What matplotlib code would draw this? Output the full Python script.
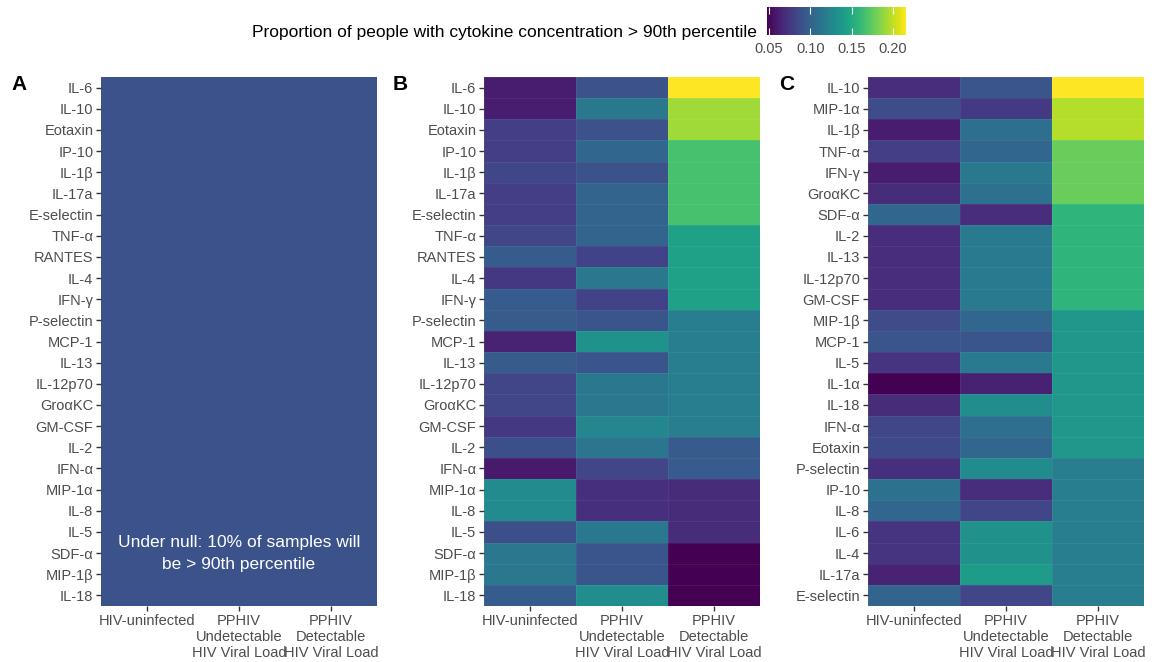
import numpy as np
import matplotlib.pyplot as plt
from matplotlib.colors import Normalize

plt.rcParams['font.family'] = ['Liberation Sans', 'DejaVu Sans']

groups = ["HIV-uninfected", "PPHIV\nUndetectable\nHIV Viral Load", "PPHIV\nDetectable\nHIV Viral Load"]

# panel A - under null
cyto_a = ["IL-6", "IL-10", "Eotaxin", "IP-10", "IL-1β", "IL-17a", "E-selectin", "TNF-α",
          "RANTES", "IL-4", "IFN-γ", "P-selectin", "MCP-1", "IL-13", "IL-12p70", "GroαKC",
          "GM-CSF", "IL-2", "IFN-α", "MIP-1α", "IL-8", "IL-5", "SDF-α", "MIP-1β", "IL-18"]
null_value = 0.090

# panel B
cyto_b = cyto_a
b_uninf = [0.061, 0.061, 0.078, 0.078, 0.083, 0.078, 0.078, 0.083, 0.096, 0.075, 0.096, 0.096, 0.064,
           0.095, 0.083, 0.083, 0.075, 0.088, 0.059, 0.128, 0.128, 0.088, 0.115, 0.115, 0.096]
b_undet = [0.090, 0.115, 0.090, 0.103, 0.090, 0.101, 0.101, 0.101, 0.081, 0.115, 0.081, 0.091, 0.133,
           0.091, 0.115, 0.115, 0.125, 0.113, 0.083, 0.071, 0.071, 0.115, 0.091, 0.091, 0.130]
b_det = [0.216, 0.192, 0.192, 0.167, 0.167, 0.167, 0.167, 0.143, 0.143, 0.143, 0.143, 0.118, 0.118,
         0.118, 0.118, 0.118, 0.118, 0.095, 0.095, 0.068, 0.068, 0.068, 0.048, 0.048, 0.048]

# panel C
cyto_c = ["IL-10", "MIP-1α", "IL-1β", "TNF-α", "IFN-γ", "GroαKC", "SDF-α", "IL-2", "IL-13",
          "IL-12p70", "GM-CSF", "MIP-1β", "MCP-1", "IL-5", "IL-1α", "IL-18", "IFN-α", "Eotaxin",
          "P-selectin", "IP-10", "IL-8", "IL-6", "IL-4", "IL-17a", "E-selectin"]
c_uninf = [0.069, 0.086, 0.061, 0.078, 0.061, 0.068, 0.103, 0.069, 0.069, 0.069, 0.069, 0.086, 0.091,
           0.073, 0.048, 0.068, 0.083, 0.085, 0.071, 0.110, 0.103, 0.073, 0.073, 0.064, 0.101]
c_undet = [0.091, 0.076, 0.108, 0.103, 0.115, 0.110, 0.069, 0.116, 0.116, 0.116, 0.116, 0.103, 0.091,
           0.116, 0.063, 0.130, 0.108, 0.103, 0.128, 0.069, 0.083, 0.132, 0.132, 0.140, 0.083]
c_det = [0.216, 0.197, 0.197, 0.177, 0.177, 0.177, 0.157, 0.157, 0.157, 0.157, 0.157, 0.137, 0.137,
         0.137, 0.137, 0.137, 0.137, 0.137, 0.118, 0.118, 0.118, 0.118, 0.118, 0.118, 0.118]

vmin, vmax = 0.0476, 0.2157
norm = Normalize(vmin, vmax)
W, H = 1159, 662

fig = plt.figure(figsize=(W/100, H/100), dpi=100)

def panel(left, labels, data, letter, letter_x, edge_alpha):
    ax = fig.add_axes([left/W, 1-606/H, 276/W, 529/H])
    data = np.array(data)
    ax.pcolormesh(np.arange(4), np.arange(26), data, cmap='viridis', norm=norm,
                  edgecolors=(1, 1, 1, edge_alpha), linewidth=0.6)
    ax.set_xlim(0, 3)
    ax.set_ylim(25, 0)
    ax.set_yticks(np.arange(25) + 0.5)
    ax.set_yticklabels(labels)
    ax.set_xticks(np.arange(3) + 0.5)
    ax.set_xticklabels(groups, linespacing=1.2)
    ax.tick_params(length=3.5, width=1, color='#333333', labelcolor='#4D4D4D',
                   labelsize=10.5, pad=2)
    for s in ax.spines.values():
        s.set_visible(False)
    fig.text(letter_x/W, 1-84/H, letter, fontsize=15, fontweight='bold', va='center', ha='left')
    return ax

ax_a = panel(101, cyto_a, np.full((25, 3), null_value), "A", 11, 0.0)
ax_a.text(1.5, 22.5, "Under null: 10% of samples will\nbe > 90th percentile", color='white',
          ha='center', va='center', fontsize=12.5, linespacing=1.6)
panel(484, cyto_b, np.column_stack([b_uninf, b_undet, b_det]), "B", 393, 0.06)
panel(868, cyto_c, np.column_stack([c_uninf, c_undet, c_det]), "C", 779, 0.06)

# colour bar
cax = fig.add_axes([767/W, 1-35/H, 139/W, 28/H])
grad = np.linspace(vmin, vmax, 256)
cax.imshow(grad[None, :], aspect='auto', cmap='viridis', norm=norm,
           extent=[vmin, vmax, 0, 1])
cax.set_xlim(vmin, vmax)
cax.set_yticks([])
cax.set_xticks([0.05, 0.10, 0.15, 0.20])
cax.set_xticklabels(["0.05", "0.10", "0.15", "0.20"])
cax.tick_params(axis='x', direction='in', length=5, width=0.8, color='white',
                top=True, bottom=True, labelcolor='#4D4D4D', labelsize=10.5, pad=5)
for s in cax.spines.values():
    s.set_visible(False)
fig.text(757/W, 1-33/H, "Proportion of people with cytokine concentration > 90th percentile",
         ha='right', va='center', fontsize=12.5)

fig.savefig("out.png", dpi=100)
